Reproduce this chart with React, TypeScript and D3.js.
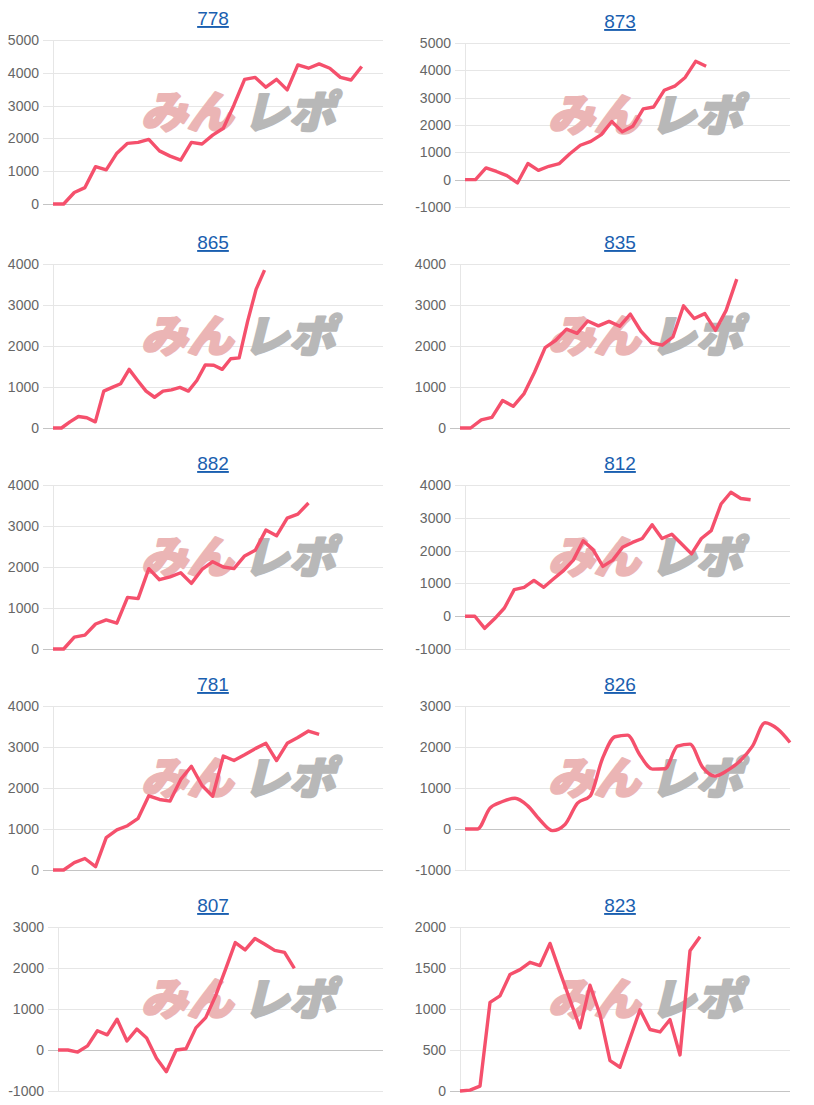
import React from "react";
import * as d3 from "d3";

// ---- data ----
const titles = ["778", "873", "865", "835", "882", "812", "781", "826", "807", "823"];
const labelCounts = [32, 32, 40, 32, 32, 34, 32, 27, 34, 34];
const yMins = [0, -1000, 0, 0, 0, -1000, 0, -1000, -1000, 0];
const yMaxs = [5000, 5000, 4000, 4000, 4000, 4000, 4000, 3000, 3000, 2000];
const ySteps = [1000, 1000, 1000, 1000, 1000, 1000, 1000, 1000, 1000, 500];
const smoothFlags = [false, false, false, false, false, false, false, true, false, false];

const s778 = [0, 0, 350, 500, 1140, 1040, 1550, 1850, 1880, 1970, 1620, 1460, 1340, 1880, 1830, 2100, 2310, 3020, 3800, 3860, 3560, 3800, 3480, 4240, 4140, 4270, 4140, 3860, 3780, 4190];
const s873 = [0, 0, 430, 300, 150, -120, 590, 340, 490, 590, 950, 1260, 1400, 1650, 2130, 1750, 1950, 2590, 2660, 3270, 3420, 3740, 4330, 4150];
const s865 = [0, 0, 150, 280, 250, 150, 900, 990, 1080, 1430, 1160, 900, 750, 900, 930, 990, 900, 1160, 1540, 1530, 1430, 1690, 1710, 2600, 3380, 3850];
const s835 = [0, 0, 200, 260, 670, 530, 830, 1360, 1960, 2140, 2410, 2310, 2610, 2490, 2600, 2480, 2780, 2360, 2080, 2020, 2220, 2980, 2670, 2790, 2380, 2870, 3630];
const s882 = [0, 0, 290, 340, 610, 710, 630, 1260, 1230, 1960, 1690, 1760, 1860, 1600, 1940, 2130, 2000, 1960, 2270, 2410, 2900, 2760, 3190, 3290, 3560];
const s812 = [0, 0, -370, -80, 250, 810, 880, 1090, 880, 1140, 1390, 1710, 2300, 2030, 1520, 1710, 2100, 2250, 2370, 2790, 2370, 2500, 2200, 1900, 2370, 2610, 3420, 3780, 3590, 3550];
const s781 = [0, 0, 180, 280, 80, 790, 980, 1080, 1260, 1810, 1720, 1680, 2210, 2530, 2060, 1800, 2780, 2670, 2810, 2960, 3090, 2670, 3090, 3230, 3390, 3310];
const s826 = [0, 0, 510, 670, 750, 570, 220, -40, 110, 630, 800, 1720, 2250, 2290, 1800, 1460, 1470, 2020, 2070, 1510, 1290, 1430, 1660, 2020, 2590, 2440, 2110];
const s807 = [0, 0, -50, 100, 470, 370, 750, 220, 510, 290, -200, -530, 0, 30, 540, 790, 1320, 1960, 2620, 2440, 2720, 2580, 2430, 2380, 1990];
const s823 = [0, 10, 60, 1080, 1160, 1420, 1480, 1570, 1530, 1800, 1450, 1110, 770, 1290, 930, 370, 290, 640, 990, 750, 720, 870, 440, 1710, 1880];

const seriesList = [s778, s873, s865, s835, s882, s812, s781, s826, s807, s823];

// ---- style / layout ----
const W = 814;
const H = 1105;
const LINE_COLOR = "#f5506c";
const TITLE_COLOR = "#1a5fb0";
const GRID = "#e6e6e6";
const ZERO = "#c4c4c4";
const FONT = "'Liberation Sans', Arial, sans-serif";

function Chart({ i }: { i: number }) {
  const col = i % 2;
  const row = Math.floor(i / 2);
  const colX = col * 407;
  const top = 43 + 221 * row + (i === 0 ? -3 : 0);
  const bottom = top + 164;
  const labelW = yMins[i] < 0 ? 36 : 31;
  const left = colX + 8 + labelW + 14;
  const right = colX + 383;

  const x = d3.scaleLinear().domain([0, labelCounts[i] - 1]).range([left, right]);
  const y = d3.scaleLinear().domain([yMins[i], yMaxs[i]]).range([bottom, top]);
  const ticks = d3.range(yMins[i], yMaxs[i] + 1, ySteps[i]);
  const data = seriesList[i];
  const line = d3
    .line<number>()
    .x((_, k) => x(k))
    .y((v) => y(v))
    .curve(smoothFlags[i] ? d3.curveMonotoneX : d3.curveLinear);

  const wmX = colX + 133;
  const wmY = top + 88;

  return (
    <g>
      <text
        x={colX + 213}
        y={top - 15}
        textAnchor="middle"
        fontFamily={FONT}
        fontSize={19}
        fill={TITLE_COLOR}
        style={{ textDecoration: "underline" }}
      >
        {titles[i]}
      </text>
      {ticks.map((t) => (
        <g key={t}>
          <line
            x1={left - 10}
            x2={right}
            y1={Math.round(y(t)) + 0.5}
            y2={Math.round(y(t)) + 0.5}
            stroke={t === 0 ? ZERO : GRID}
            strokeWidth={1}
          />
          <text
            x={left - 14}
            y={y(t)}
            textAnchor="end"
            dominantBaseline="central"
            fontFamily={FONT}
            fontSize={14}
            fill="#666"
          >
            {t}
          </text>
        </g>
      ))}
      <line x1={left + 0.5} x2={left + 0.5} y1={top} y2={bottom + 1} stroke={GRID} strokeWidth={1} />
      {/* watermark */}
      <g transform={`translate(${wmX},${wmY}) skewX(-14)`}>
        <text
          x={8}
          y={0}
          fontFamily="'Noto Sans CJK JP', sans-serif"
          fontWeight={900}
          fontSize={44}
          fill="#ebb5b5"
          stroke="#ebb5b5"
          strokeWidth={2.5}
          strokeLinejoin="round"
          textLength={92}
          lengthAdjust="spacingAndGlyphs"
        >
          みん
        </text>
        <text
          x={110}
          y={0}
          fontFamily="'Noto Sans CJK JP', sans-serif"
          fontWeight={900}
          fontSize={44}
          fill="#b8b8b8"
          stroke="#b8b8b8"
          strokeWidth={2.5}
          strokeLinejoin="round"
          textLength={92}
          lengthAdjust="spacingAndGlyphs"
        >
          レポ
        </text>
      </g>
      <path
        d={line(data) || ""}
        fill="none"
        stroke={LINE_COLOR}
        strokeWidth={3.4}
        strokeLinejoin="round"
        strokeLinecap="butt"
      />
    </g>
  );
}

export default function App() {
  return (
    <svg
      width={W}
      height={H}
      viewBox={`0 0 ${W} ${H}`}
      style={{ position: "absolute", left: 0, top: 0, background: "#fff" }}
    >
      <rect x={0} y={0} width={W} height={H} fill="#fff" />
      {titles.map((_, i) => (
        <Chart key={i} i={i} />
      ))}
    </svg>
  );
}
